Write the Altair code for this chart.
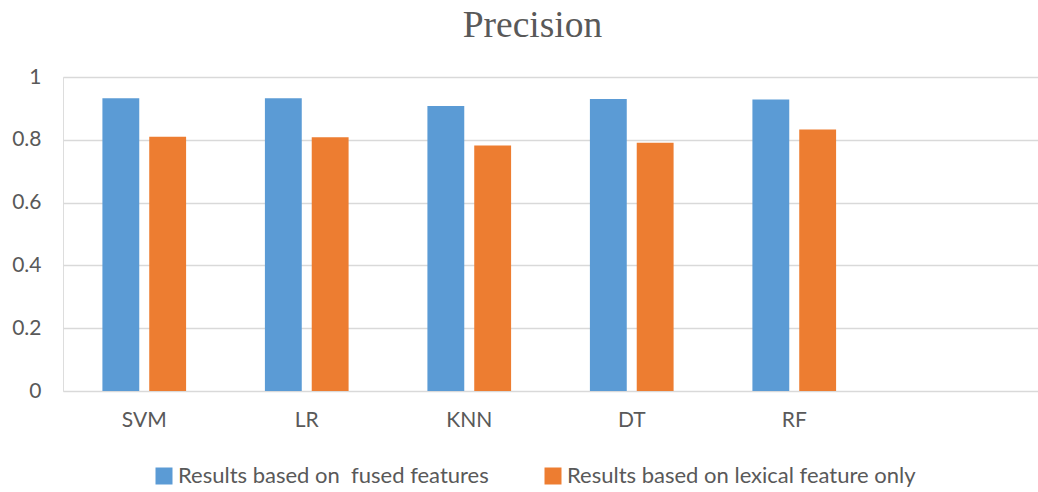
import altair as alt
import pandas as pd

# Precision per classifier, two feature settings
classifiers = ["SVM", "LR", "KNN", "DT", "RF"]
x_slots = ["SVM", "LR", "KNN", "DT", "RF", " "]
fused = [0.932, 0.932, 0.908, 0.930, 0.928]
lexical = [0.810, 0.808, 0.782, 0.791, 0.833]
series_names = ["Results based on\u00a0 fused features",
                "Results based on lexical feature only"]
series_colors = ["#5B9BD5", "#ED7D31"]
y_ticks = [0, 0.2, 0.4, 0.6, 0.8, 1]

rows = []
for name, values in zip(series_names, [fused, lexical]):
    for clf, v in zip(classifiers, values):
        rows.append({"classifier": clf, "series": name, "precision": v})
df = pd.DataFrame(rows)

FONT = "Lato"
GREY = "#595959"

bars = alt.Chart(df).mark_bar().encode(
    x=alt.X("classifier:N",
            scale=alt.Scale(domain=x_slots, paddingInner=0.485, paddingOuter=0.2425),
            axis=alt.Axis(title=None, labelAngle=0, ticks=False, domain=False,
                          labelFont=FONT, labelFontSize=21, labelColor=GREY,
                          labelPadding=18)),
    xOffset=alt.XOffset("series:N", sort=series_names,
                        scale=alt.Scale(paddingInner=0.213, paddingOuter=0)),
    y=alt.Y("precision:Q",
            scale=alt.Scale(domain=[0, 1], nice=False),
            axis=alt.Axis(title=None, values=y_ticks, format="~g", ticks=False,
                          domain=False, grid=True, gridColor="#D9D9D9",
                          gridWidth=1.5, labelFont=FONT, labelFontSize=21,
                          labelColor=GREY, labelPadding=22)),
    color=alt.Color("series:N",
                    scale=alt.Scale(domain=series_names, range=series_colors),
                    legend=alt.Legend(title=None, orient="none", direction="horizontal",
                                      legendX=90, legendY=388,
                                      symbolType="square", symbolSize=289,
                                      symbolStrokeWidth=0, labelFont=FONT,
                                      labelFontSize=22, labelColor=GREY,
                                      labelLimit=0, labelOffset=3,
                                      columnPadding=53)),
)

chart = bars.properties(
    width=975,
    height=314,
    title=alt.TitleParams("Precision", font="Liberation Serif", fontSize=37.5,
                          fontWeight="normal", color=GREY, anchor="middle",
                          offset=22, dx=-18),
    autosize=alt.AutoSizeParams(type="none"),
    padding={"left": 63, "top": 77, "right": 0, "bottom": 101},
).configure_view(stroke=None).configure(background="white")

chart.save("out.html", embed_options={"renderer": "svg", "actions": False})
